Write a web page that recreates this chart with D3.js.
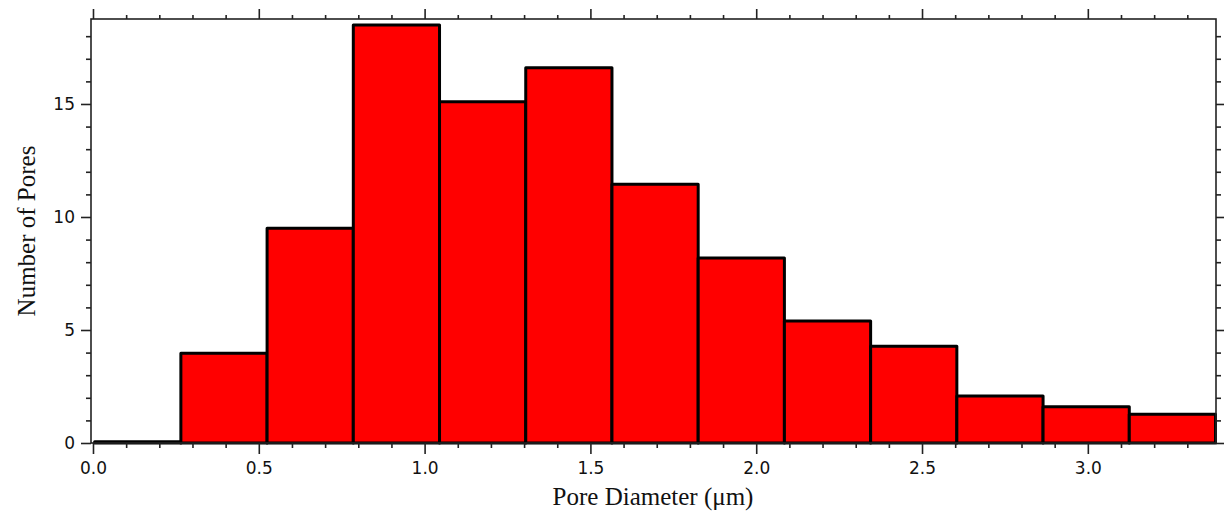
<!DOCTYPE html>
<html>
<head>
<meta charset="utf-8">
<script src="https://cdn.jsdelivr.net/npm/d3@7"></script>
<style>
  html, body { margin: 0; padding: 0; background: #fff; }
  svg { display: block; }
  .axis-title { font-family: "Liberation Serif", "Times New Roman", serif; font-size: 25px; fill: #111; }
</style>
</head>
<body>
<svg id="chart" width="1224" height="515"></svg>
<script>
// Histogram of pore diameters
const binEdges = [0.005, 0.265, 0.525, 0.785, 1.045, 1.305, 1.565, 1.825, 2.085, 2.345, 2.605, 2.865, 3.125, 3.385];
const poreCounts = [0.05, 3.97, 9.5, 18.5, 15.1, 16.6, 11.45, 8.18, 5.4, 4.28, 2.08, 1.6, 1.27];
const xMajorTicks = [0.0, 0.5, 1.0, 1.5, 2.0, 2.5, 3.0];
const xMinorTicks = [0.1, 0.2, 0.3, 0.4, 0.6, 0.7, 0.8, 0.9, 1.1, 1.2, 1.3, 1.4, 1.6, 1.7, 1.8, 1.9,
                     2.1, 2.2, 2.3, 2.4, 2.6, 2.7, 2.8, 2.9, 3.1, 3.2, 3.3];
const yMajorTicks = [0, 5, 10, 15];
const yMinorTicks = [1, 2, 3, 4, 6, 7, 8, 9, 11, 12, 13, 14, 16, 17, 18];
const xTitle = "Pore Diameter (\u03bcm)";
const yTitle = "Number of Pores";

const svg = d3.select("#chart");
const plot = { left: 91, right: 1216, top: 19, bottom: 443 };

const x = d3.scaleLinear().domain([-0.006, 3.3865]).range([plot.left, plot.right]);
const y = d3.scaleLinear().domain([0, 18.76]).range([plot.bottom, plot.top]);

const bins = poreCounts.map((c, i) => ({ x0: binEdges[i], x1: binEdges[i + 1], count: c }));

// Bars
svg.append("g")
  .selectAll("rect")
  .data(bins)
  .join("rect")
  .attr("x", d => x(d.x0))
  .attr("y", d => y(d.count))
  .attr("width", d => x(d.x1) - x(d.x0))
  .attr("height", d => y(0) - y(d.count))
  .attr("fill", "#ff0000")
  .attr("stroke", "#000")
  .attr("stroke-width", 3)
  .attr("stroke-linejoin", "round");

// Axes with outward ticks (major + minor) on all four sides
const axisColor = "#222";
function addAxis(axisFn, scale, transform, majors, minors, majorLen, minorLen, pad, fmt) {
  const gMinor = svg.append("g").attr("transform", transform)
    .call(axisFn(scale).tickValues(minors).tickSize(minorLen).tickFormat(""));
  const gMajor = svg.append("g").attr("transform", transform)
    .call(axisFn(scale).tickValues(majors).tickSize(majorLen).tickPadding(pad).tickFormat(fmt || ""));
  [gMinor, gMajor].forEach(g => {
    g.attr("font-size", null).attr("font-family", null);
    g.select(".domain").remove();
    g.selectAll(".tick line").attr("stroke", axisColor).attr("stroke-width", 1.6);
    g.selectAll(".tick text")
      .style("font-family", "'DejaVu Sans', sans-serif")
      .style("font-size", "17px")
      .style("fill", "#111");
  });
  return gMajor;
}

addAxis(d3.axisBottom, x, `translate(0,${plot.bottom})`, xMajorTicks, xMinorTicks, 11, 5, 8, d3.format(".1f"));
addAxis(d3.axisTop, x, `translate(0,${plot.top})`, xMajorTicks, xMinorTicks, 10, 4, 6, null);
addAxis(d3.axisLeft, y, `translate(${plot.left},0)`, yMajorTicks, yMinorTicks, 10, 5, 6, d3.format("d"));
addAxis(d3.axisRight, y, `translate(${plot.right},0)`, yMajorTicks, yMinorTicks, 9, 5, 6, null);

// Frame
svg.append("rect")
  .attr("x", plot.left).attr("y", plot.top)
  .attr("width", plot.right - plot.left).attr("height", plot.bottom - plot.top)
  .attr("fill", "none").attr("stroke", axisColor).attr("stroke-width", 1.6);

// Axis titles
svg.append("text")
  .attr("class", "axis-title")
  .attr("x", 653)
  .attr("y", 505)
  .attr("text-anchor", "middle")
  .text(xTitle);

svg.append("text")
  .attr("class", "axis-title")
  .attr("transform", `translate(35,${(plot.top + plot.bottom) / 2}) rotate(-90)`)
  .attr("text-anchor", "middle")
  .text(yTitle);
</script>
</body>
</html>
